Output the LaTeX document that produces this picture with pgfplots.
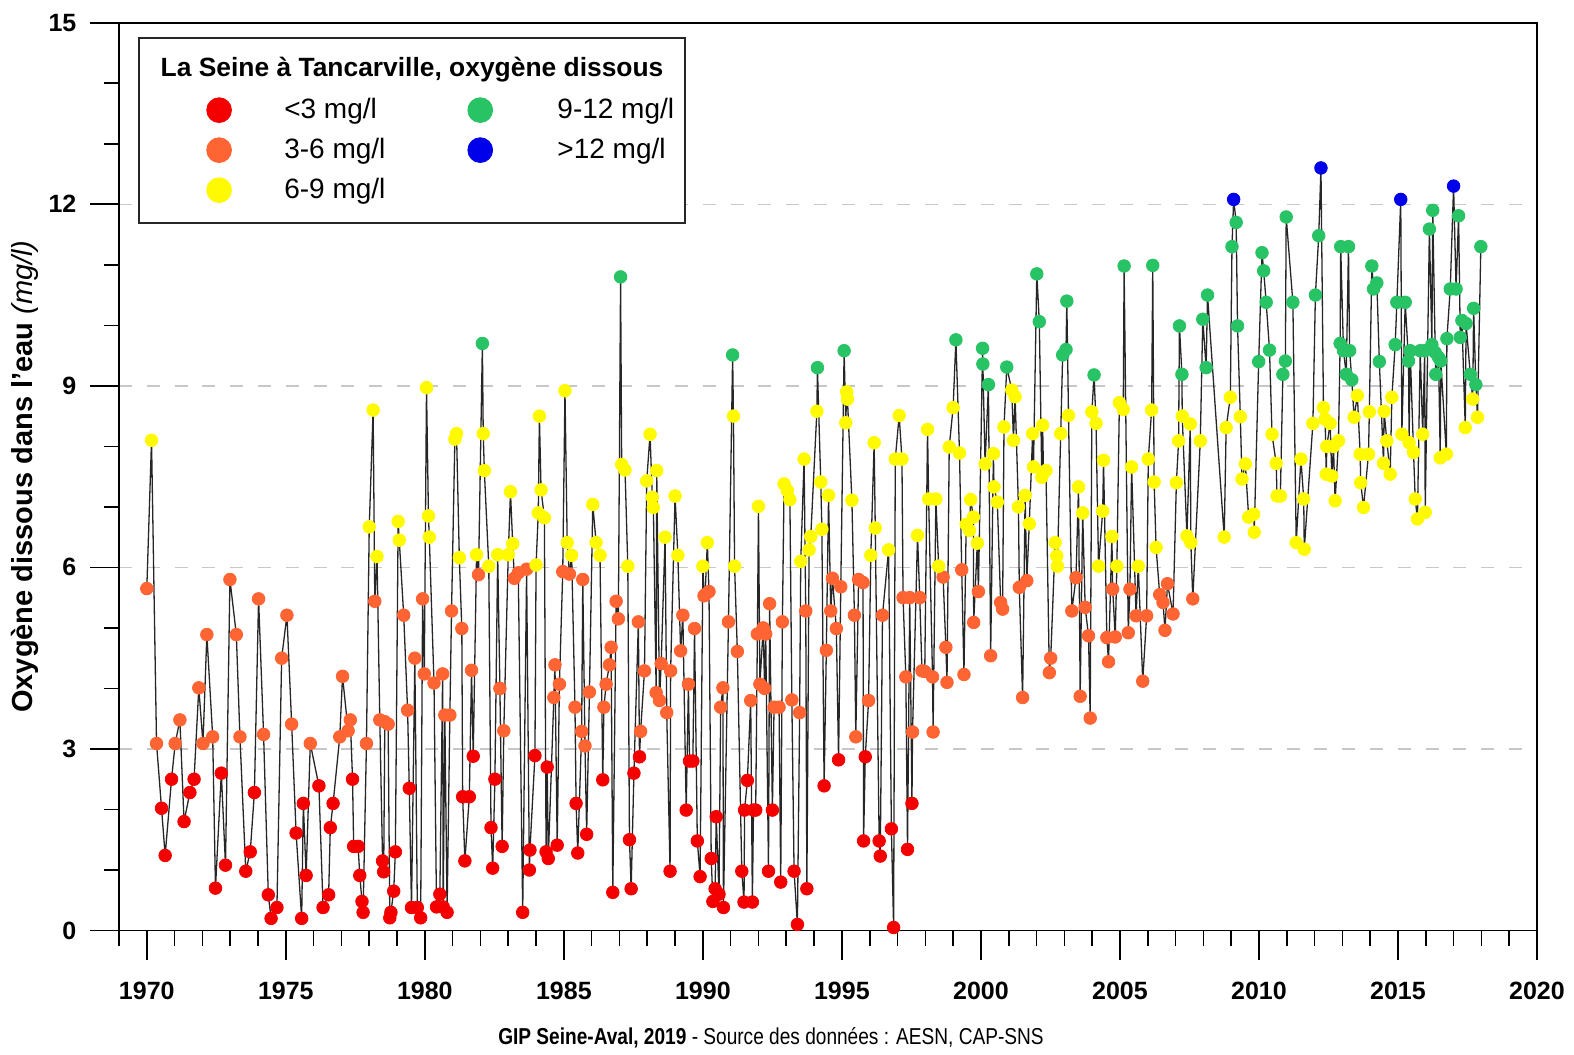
\documentclass[border=0pt]{standalone}
\usepackage{fontspec}
\setmainfont{Liberation Sans}
\newfontfamily\narrowfont{Liberation Sans}[FakeStretch=0.83]
\usepackage{pgfplots}
\usepackage{pgfplotstable}
\pgfplotsset{compat=1.18}
\definecolor{oxred}{RGB}{245,0,0}
\definecolor{oxorange}{RGB}{255,100,50}
\definecolor{oxyellow}{RGB}{255,250,0}
\definecolor{oxgreen}{RGB}{40,195,100}
\definecolor{oxblue}{RGB}{0,0,235}

\pgfplotstableread{
year val
1970.00 5.65
1970.17 8.10
1970.35 3.09
1970.53 2.02
1970.66 1.24
1970.89 2.50
1971.02 3.09
1971.19 3.48
1971.34 1.80
1971.55 2.28
1971.70 2.50
1971.87 4.01
1972.02 3.09
1972.16 4.89
1972.37 3.20
1972.47 0.70
1972.68 2.60
1972.83 1.08
1972.99 5.80
1973.22 4.89
1973.35 3.20
1973.56 0.98
1973.72 1.30
1973.87 2.28
1974.02 5.48
1974.20 3.24
1974.37 0.59
1974.47 0.20
1974.68 0.38
1974.85 4.50
1975.04 5.21
1975.21 3.41
1975.37 1.61
1975.57 0.20
1975.63 2.10
1975.73 0.91
1975.88 3.09
1976.19 2.39
1976.34 0.38
1976.54 0.59
1976.60 1.70
1976.70 2.10
1976.94 3.20
1977.04 4.20
1977.24 3.30
1977.32 3.48
1977.40 2.50
1977.44 1.39
1977.60 1.39
1977.66 0.91
1977.74 0.48
1977.78 0.30
1977.90 3.09
1978.00 6.67
1978.14 8.60
1978.20 5.44
1978.28 6.18
1978.38 3.48
1978.48 1.15
1978.52 0.97
1978.56 3.45
1978.68 3.41
1978.74 0.21
1978.78 0.30
1978.88 0.65
1978.94 1.30
1979.04 6.76
1979.08 6.45
1979.24 5.21
1979.38 3.64
1979.44 2.35
1979.52 0.38
1979.64 4.50
1979.73 0.38
1979.85 0.21
1979.92 5.48
1979.98 4.24
1980.06 8.97
1980.13 6.85
1980.16 6.50
1980.33 4.09
1980.42 0.39
1980.54 0.60
1980.64 4.24
1980.66 0.39
1980.72 3.56
1980.80 0.30
1980.90 3.56
1980.96 5.28
1981.08 8.12
1981.14 8.21
1981.24 6.16
1981.33 4.99
1981.36 2.21
1981.44 1.15
1981.60 2.21
1981.68 4.30
1981.74 2.88
1981.86 6.21
1981.93 5.88
1982.07 9.70
1982.10 8.21
1982.14 7.60
1982.30 6.02
1982.38 1.70
1982.44 1.03
1982.52 2.50
1982.62 6.21
1982.70 4.00
1982.78 1.39
1982.84 3.30
1983.00 6.21
1983.08 7.25
1983.16 6.39
1983.22 5.82
1983.36 5.91
1983.52 0.30
1983.66 5.97
1983.76 1.00
1983.78 1.33
1983.96 2.89
1984.00 6.04
1984.08 6.90
1984.12 8.50
1984.18 7.28
1984.30 6.82
1984.36 1.30
1984.40 2.70
1984.44 1.19
1984.64 3.85
1984.68 4.39
1984.76 1.41
1984.84 4.07
1984.96 5.93
1985.04 8.92
1985.12 6.41
1985.20 5.89
1985.28 6.20
1985.40 3.69
1985.44 2.10
1985.50 1.28
1985.64 3.29
1985.68 5.80
1985.76 3.05
1985.82 1.59
1985.92 3.94
1986.04 7.04
1986.16 6.41
1986.30 6.20
1986.40 2.49
1986.44 3.69
1986.52 4.07
1986.64 4.39
1986.70 4.68
1986.76 0.63
1986.88 5.44
1986.96 5.15
1987.04 10.80
1987.08 7.70
1987.20 7.61
1987.30 6.02
1987.36 1.50
1987.42 0.69
1987.52 2.60
1987.68 5.10
1987.72 2.87
1987.76 3.29
1987.90 4.29
1987.98 7.43
1988.10 8.20
1988.18 7.16
1988.22 6.99
1988.32 3.93
1988.34 7.60
1988.44 3.80
1988.50 4.41
1988.64 6.50
1988.70 3.60
1988.82 0.98
1988.84 4.29
1989.00 7.18
1989.10 6.20
1989.20 4.62
1989.28 5.21
1989.40 1.99
1989.48 4.07
1989.52 2.80
1989.64 2.80
1989.70 4.99
1989.80 1.48
1989.90 0.89
1990.00 6.02
1990.04 5.53
1990.08 5.55
1990.16 6.41
1990.22 5.60
1990.30 1.19
1990.36 0.48
1990.44 0.69
1990.48 1.88
1990.58 0.60
1990.64 3.69
1990.72 4.01
1990.74 0.38
1990.92 5.10
1991.07 9.51
1991.10 8.50
1991.14 6.02
1991.24 4.61
1991.40 0.98
1991.48 0.47
1991.50 1.99
1991.60 2.48
1991.72 3.80
1991.78 0.47
1991.82 1.99
1991.90 1.99
1991.96 4.90
1992.00 7.01
1992.05 4.07
1992.17 5.00
1992.22 4.00
1992.26 4.90
1992.36 0.98
1992.40 5.40
1992.50 1.99
1992.56 3.69
1992.74 3.69
1992.80 0.80
1992.86 5.10
1992.92 7.38
1993.04 7.27
1993.13 7.12
1993.20 3.81
1993.28 0.98
1993.40 0.10
1993.48 3.60
1993.52 6.10
1993.64 7.79
1993.70 5.28
1993.74 0.69
1993.82 6.29
1993.88 6.51
1994.10 8.58
1994.12 9.30
1994.24 7.41
1994.28 6.63
1994.36 2.39
1994.44 4.63
1994.52 7.19
1994.60 5.28
1994.66 5.82
1994.80 4.99
1994.88 2.82
1994.96 5.68
1995.08 9.58
1995.14 8.39
1995.17 8.90
1995.20 8.78
1995.36 7.11
1995.45 5.21
1995.50 3.20
1995.60 5.80
1995.76 5.75
1995.78 1.48
1995.84 2.87
1995.96 3.80
1996.04 6.20
1996.16 8.06
1996.20 6.65
1996.34 1.48
1996.38 1.23
1996.46 5.21
1996.68 6.29
1996.78 1.68
1996.86 0.05
1996.92 7.79
1997.06 8.51
1997.16 7.79
1997.20 5.50
1997.30 4.19
1997.36 1.34
1997.44 5.50
1997.52 2.10
1997.54 3.28
1997.72 6.53
1997.80 5.50
1997.88 4.29
1997.98 4.28
1998.08 8.28
1998.12 7.13
1998.26 4.19
1998.28 3.28
1998.38 7.13
1998.48 6.02
1998.64 5.84
1998.74 4.68
1998.78 4.10
1998.86 7.99
1999.00 8.64
1999.10 9.76
1999.23 7.89
1999.31 5.96
1999.39 4.23
1999.47 6.71
1999.59 6.61
1999.63 7.12
1999.73 6.83
1999.74 5.09
1999.87 6.40
1999.91 5.60
2000.06 9.62
2000.07 9.36
2000.15 7.71
2000.27 9.02
2000.35 4.54
2000.45 7.88
2000.47 7.33
2000.59 7.08
2000.71 5.42
2000.78 5.31
2000.83 8.32
2000.93 9.31
2001.11 8.93
2001.17 8.10
2001.23 8.82
2001.35 7.00
2001.38 5.67
2001.50 3.85
2001.59 7.19
2001.65 5.78
2001.74 6.72
2001.86 8.21
2001.89 7.66
2002.01 10.85
2002.10 10.06
2002.19 7.49
2002.22 8.35
2002.25 7.57
2002.34 7.60
2002.46 4.26
2002.51 4.50
2002.67 6.41
2002.73 6.19
2002.75 6.02
2002.87 8.21
2002.94 9.51
2003.06 9.60
2003.09 10.40
2003.15 8.51
2003.27 5.28
2003.42 5.83
2003.51 7.33
2003.57 3.87
2003.66 6.90
2003.75 5.34
2003.87 4.87
2003.93 3.51
2003.99 8.57
2004.07 9.18
2004.14 8.38
2004.23 6.02
2004.38 6.93
2004.41 7.77
2004.53 4.84
2004.59 4.44
2004.71 6.51
2004.74 5.64
2004.83 4.85
2004.89 6.02
2004.98 8.72
2005.12 8.61
2005.15 10.98
2005.30 4.92
2005.36 5.64
2005.42 7.66
2005.58 5.20
2005.66 6.02
2005.82 4.12
2005.96 5.20
2006.02 7.79
2006.14 8.60
2006.18 10.99
2006.23 7.41
2006.30 6.33
2006.43 5.55
2006.55 5.42
2006.62 4.96
2006.71 5.73
2006.91 5.23
2007.03 7.40
2007.11 8.09
2007.14 9.99
2007.23 9.19
2007.24 8.50
2007.41 6.52
2007.53 8.37
2007.55 6.41
2007.62 5.48
2007.89 8.09
2007.98 10.10
2008.10 9.30
2008.15 10.50
2008.75 6.50
2008.82 8.31
2008.97 8.81
2009.03 11.30
2009.09 12.08
2009.18 11.70
2009.23 9.99
2009.33 8.49
2009.39 7.46
2009.51 7.71
2009.63 6.83
2009.81 6.88
2009.83 6.58
2009.99 9.40
2010.11 11.20
2010.17 10.90
2010.26 10.38
2010.38 9.59
2010.47 8.20
2010.62 7.72
2010.65 7.18
2010.77 7.18
2010.86 9.19
2010.95 9.41
2010.98 11.79
2011.22 10.38
2011.34 6.41
2011.51 7.79
2011.61 7.13
2011.63 6.30
2011.94 8.38
2012.03 10.50
2012.15 11.48
2012.23 12.60
2012.32 8.64
2012.38 8.45
2012.42 7.54
2012.44 8.00
2012.56 8.38
2012.62 7.51
2012.68 8.00
2012.74 7.10
2012.86 8.09
2012.92 9.70
2012.94 11.30
2013.04 9.58
2013.14 9.19
2013.22 11.30
2013.26 9.58
2013.34 9.10
2013.42 8.48
2013.54 8.84
2013.64 7.87
2013.66 7.40
2013.76 6.99
2013.94 7.87
2013.97 8.57
2014.06 10.98
2014.12 10.60
2014.24 10.70
2014.33 9.40
2014.48 7.72
2014.50 8.58
2014.60 8.09
2014.72 7.54
2014.78 8.81
2014.90 9.68
2014.96 10.38
2015.10 12.08
2015.14 8.20
2015.26 10.38
2015.38 9.41
2015.40 8.06
2015.44 9.58
2015.56 7.90
2015.62 7.13
2015.70 6.80
2015.80 9.58
2015.89 8.20
2015.96 9.58
2015.98 6.91
2016.13 11.59
2016.22 9.68
2016.25 11.90
2016.34 9.55
2016.36 9.19
2016.46 9.47
2016.52 7.81
2016.54 9.41
2016.74 7.87
2016.76 9.78
2016.88 10.60
2017.00 12.30
2017.09 10.60
2017.18 11.81
2017.24 9.80
2017.30 10.08
2017.42 8.31
2017.45 10.03
2017.60 9.19
2017.69 8.78
2017.72 10.28
2017.80 9.02
2017.86 8.48
2017.98 11.30
}\oxdata

\begin{document}
\begin{tikzpicture}
\begin{axis}[
  scale only axis, width=709pt, height=453.9pt,
  xmin=1969, xmax=2020, ymin=0, ymax=15,
  xtick={1970,1975,...,2020}, ytick={0,3,...,15},
  minor xtick={1969,1971,1972,1973,1974,1976,1977,1978,1979,1981,1982,1983,1984,1986,1987,1988,1989,1991,1992,1993,1994,1996,1997,1998,1999,2001,2002,2003,2004,2006,2007,2008,2009,2011,2012,2013,2014,2016,2017,2018,2019},
  minor y tick num=2,
  tick pos=left, tick align=outside,
  major tick length=14.5pt, minor tick length=7.5pt,
  tick style={black, line width=0.8pt},
  minor tick style={black, line width=0.8pt},
  axis line style={black, line width=0.8pt},
  ymajorgrids,
  grid style={black!22, line width=0.7pt, dash pattern=on 6.5pt off 7.4pt},
  tick label style={font=\bfseries\fontsize{12.5}{14}\selectfont},
  xticklabel style={yshift=-7.5pt},
  yticklabel style={xshift=-3.3pt},
  /pgf/number format/assume math mode=true,
  /pgf/number format/1000 sep={},
  ylabel={\textbf{Oxygène dissous dans l'eau} \textit{(mg/l)}},
  ylabel style={at={(axis description cs:-0.0663,0.5)}, anchor=center, font=\fontsize{14.5}{17}\selectfont},
  clip=false,
  legend columns=2,
  legend cell align=left,
  legend style={at={(axis cs:1972.14,13.77)}, anchor=north west, draw=none, fill=none,
    inner sep=0pt, outer sep=0pt, row sep=7pt,
    font=\fontsize{14}{16}\selectfont,
    nodes={inner sep=0pt},
    /tikz/every even column/.append style={column sep=41pt}},
]
\path (rel axis cs:0,0) ++(-59.5pt,-60.25pt) rectangle ++(787pt,525.5pt);
\draw[black!85, line width=0.8pt, fill=white] (axis cs:1969.72,11.69) rectangle (axis cs:1989.36,14.75);
\node[font=\bfseries\fontsize{13.2}{15}\selectfont] at (axis cs:1979.54,14.22) {La Seine à Tancarville, oxygène dissous};
\node[font=\narrowfont\fontsize{11.5}{13}\selectfont] at (axis cs:1992.45,-1.77) {\textbf{GIP Seine-Aval, 2019} - Source des données : AESN, CAP-SNS};

\addplot[black!85, line width=0.65pt, forget plot] table[x=year,y=val] {\oxdata};
\addplot[only marks, mark=*, mark size=3.15pt, color=oxred, forget plot, restrict y to domain=0:2.999] table[x=year,y=val] {\oxdata};
\addplot[only marks, mark=*, mark size=3.15pt, color=oxorange, forget plot, restrict y to domain=3:5.999] table[x=year,y=val] {\oxdata};
\addplot[only marks, mark=*, mark size=3.15pt, color=oxyellow, forget plot, restrict y to domain=6:8.999] table[x=year,y=val] {\oxdata};
\addplot[only marks, mark=*, mark size=3.15pt, color=oxgreen, forget plot, restrict y to domain=9:11.999] table[x=year,y=val] {\oxdata};
\addplot[only marks, mark=*, mark size=3.15pt, color=oxblue, forget plot, restrict y to domain=12:15] table[x=year,y=val] {\oxdata};

\addlegendimage{legend image code/.code={\fill[oxred] (0pt,0pt) circle (6.2pt); \path[draw=none,fill=none] (-6.2pt,-6.5pt) rectangle (32.6pt,6.5pt);}}
\addlegendentry{<3 mg/l}
\addlegendimage{legend image code/.code={\fill[oxgreen] (0pt,0pt) circle (6.2pt); \path[draw=none,fill=none] (-6.2pt,-6.5pt) rectangle (38.6pt,6.5pt);}}
\addlegendentry{9-12 mg/l}
\addlegendimage{legend image code/.code={\fill[oxorange] (0pt,0pt) circle (6.2pt); \path[draw=none,fill=none] (-6.2pt,-6.5pt) rectangle (32.6pt,6.5pt);}}
\addlegendentry{3-6 mg/l}
\addlegendimage{legend image code/.code={\fill[oxblue] (0pt,0pt) circle (6.2pt); \path[draw=none,fill=none] (-6.2pt,-6.5pt) rectangle (38.6pt,6.5pt);}}
\addlegendentry{>12 mg/l}
\addlegendimage{legend image code/.code={\fill[oxyellow] (0pt,0pt) circle (6.2pt); \path[draw=none,fill=none] (-6.2pt,-6.5pt) rectangle (32.6pt,6.5pt);}}
\addlegendentry{6-9 mg/l}
\end{axis}
\end{tikzpicture}
\end{document}
